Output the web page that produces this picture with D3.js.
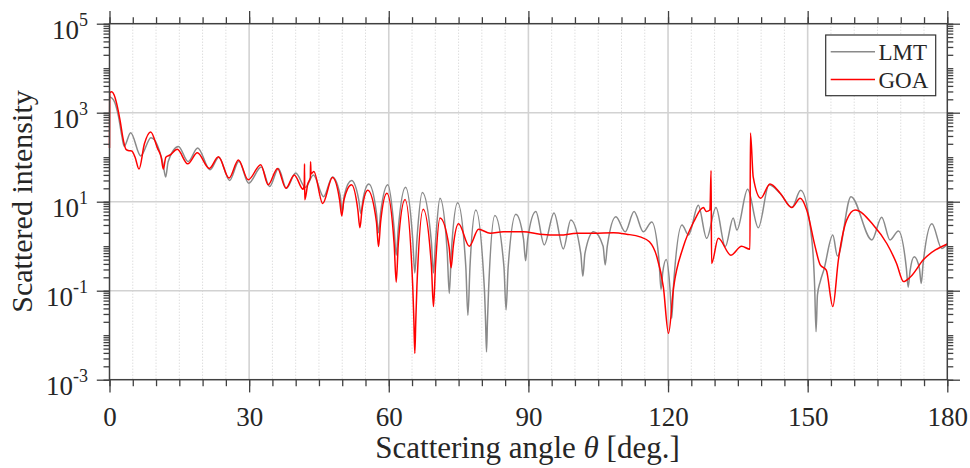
<html>
<head>
<script src="https://d3js.org/d3.v7.min.js"></script>
<style>
body { margin: 0; background: #fff; }
text { font-family: "Liberation Serif", "Times New Roman", serif; fill: #262626; }
</style>
</head>
<body>
<svg id="chart" width="970" height="468"></svg>
<script>
// scattering angle (deg) and intensity
var lmtPoints = [
  [0,2300],[0.86,1950],[1.93,830],[2.65,300],[3.15,175],[4.55,355],[6.7,107],[8.9,275],
  [11.5,71],[12.07,36],[12.6,79],[14.8,175],[16.9,80],[18.95,162],[21.6,52],[23.5,100],
  [25.8,30],[27.8,81],[29.9,26],[32.6,60],[34.4,22],[36.3,56],[38.0,20],[40.0,44],
  [42.1,21],[43.8,40],[46.0,13],[47.9,36],[49.55,14],[50.0,5.9],[50.45,14],[52.0,30],
  [53.55,11],[54.0,5.4],[54.45,11],[55.7,25],[57.35,5.6],[57.8,2.0],[58.25,5.6],[59.8,24],
  [61.15,2.5],[61.6,0.63],[62.05,2.5],[63.6,21],[65.15,1.4],[65.6,0.25],[66.05,1.4],[67.2,16],
  [69.15,1.26],[69.6,0.25],[70.05,1.26],[71.0,12],[72.55,0.76],[73.0,0.087],[73.45,0.76],
  [74.8,9.5],[76.55,0.35],[77.0,0.028],[77.45,0.35],[78.7,6.5],[80.55,0.107],[80.8,0.02],
  [81.0,0.0042],[81.2,0.02],[81.45,0.107],[82.8,4.9],[84.75,0.34],[85.2,0.037],[85.65,0.34],
  [87.3,5.2],[88.95,1.45],[89.4,0.47],[89.85,1.45],[91.6,6.0],[93.4,1.07],[95.5,5.6],
  [97.5,0.87],[99.1,3.9],[101.25,0.69],[101.7,0.21],[102.15,0.69],[104.0,2.1],[106.05,1.0],
  [106.5,0.38],[106.95,1.0],[108.8,4.6],[110.8,2.1],[112.7,6.0],[114.7,2.1],[116.5,3.5],
  [118.05,0.5],[118.5,0.107],[118.85,0.25],[119.6,0.5],[120.45,0.1],[120.8,0.024],[121.2,0.14],
  [123.0,3.0],[124.4,1.78],[126.5,8.3],[128.3,1.5],[130.3,7.4],[132.3,0.98],[134.0,4.3],
  [134.8,2.3],[137.1,19],[139.4,2.6],[141.7,24],[144.4,14],[146.6,7.4],[148.5,18],
  [150.9,1.38],[151.5,0.126],[151.8,0.012],[152.1,0.08],[152.7,0.16],[153.5,0.3],[155.4,1.78],
  [156.4,0.6],[159.3,13],[163.8,1.38],[165.9,4.5],[167.7,1.38],[169.5,2.2],[171.2,0.32],
  [171.6,0.12],[172.0,0.28],[172.9,0.58],[174.0,0.32],[174.4,0.145],[174.8,0.4],[176.7,3.2],
  [178.8,0.89],[180,1.12]
];

var goaPoints = [
  [0,160],[0.05,2800],[0.5,2950],[1.0,2500],[1.54,1600],[2.26,680],[2.98,240],[3.55,150],
  [4.2,140],[4.77,138],[5.5,100],[6.34,54],[7.5,200],[8.85,370],[10.3,160],[11.1,100],
  [11.57,54],[12.1,100],[13.0,112],[14.57,150],[16.8,71],[18.87,126],[21.45,56],[23.4,102],
  [25.7,34],[27.7,87],[29.8,31],[32.5,68],[34.1,24],[36.1,56],[37.9,20],[39.7,40],
  [41.6,19],[41.85,25],[41.9,71],[41.95,11],[42.6,25],[43.15,35],[43.2,79],[43.3,42],
  [43.9,48],[45.8,9.1],[47.9,35],[49.45,10.7],[49.9,4.8],[50.35,10.7],[52.0,24],[53.35,6.6],
  [53.8,2.6],[54.25,6.6],[55.5,18],[57.35,3.5],[57.8,0.98],[58.25,3.5],[59.6,15.5],
  [61.15,1.15],[61.6,0.155],[62.05,1.15],[63.5,11.2],[65.15,0.126],[65.4,0.02],[65.6,0.0039],
  [65.8,0.02],[66.05,0.126],[67.4,6.8],[69.15,0.38],[69.6,0.044],[70.05,0.38],[71.0,4.3],
  [72.95,0.98],[73.4,0.33],[73.85,0.98],[75.0,3.2],[77.3,1.0],[79.3,2.4],[81.8,1.95],
  [84.6,2.1],[88.9,2.1],[92.5,1.86],[96.8,1.78],[100.4,1.95],[104,1.95],[108.3,2.0],
  [111.1,1.86],[114.0,1.62],[116.0,1.26],[117.6,0.58],[119.0,0.12],[120.1,0.011],[121.2,0.12],
  [123.3,0.98],[125.5,3.5],[127.6,7.4],[128.2,6.0],[129.0,6.5],[129.25,50],[129.35,0.41],
  [130.8,1.5],[133.5,0.63],[135.8,1.0],[137.6,0.85],[137.7,350],[138.3,36],[139.9,12],
  [141.9,25],[144.1,15.5],[146.6,7.4],[148.4,12],[149.8,6.5],[151.6,0.98],[152.7,0.38],
  [154.0,0.29],[155.4,0.044],[156.6,0.49],[158.4,3.9],[160.2,6.5],[164.1,3.0],[167.0,1.15],
  [169.1,0.41],[170.6,0.16],[172.0,0.2],[174.9,0.5],[180,1.12]
];

var xMajorTicks = [0, 30, 60, 90, 120, 150, 180];
var yLabelExponents = [-3, -1, 1, 3, 5];
var seriesNames = ["LMT", "GOA"];

var svg = d3.select("#chart");
var pL = 109.5, pR = 947.3, pT = 23.7, pB = 379.7;

var x = d3.scaleLinear().domain([0, 180]).range([pL, pR]);
var y = d3.scaleLog().domain([1e-3, 1e5]).range([pB, pT]);

var xMinor = d3.range(0, 181, 5);
var yMajor = yLabelExponents.map(function(e) { return Math.pow(10, e); });

// grid
var grid = svg.append("g");
grid.selectAll(".xminor").data(xMinor.filter(function(d) { return d % 30 != 0; }))
  .enter().append("line")
  .attr("x1", x).attr("x2", x).attr("y1", pT).attr("y2", pB)
  .attr("stroke", "#cfcfcf").attr("stroke-width", 1).attr("stroke-dasharray", "1,2");
grid.selectAll(".xmajor").data(xMajorTicks.slice(1, -1))
  .enter().append("line")
  .attr("x1", x).attr("x2", x).attr("y1", pT).attr("y2", pB)
  .attr("stroke", "#d2d2d2").attr("stroke-width", 1.6);
grid.selectAll(".ymajor").data(yMajor.slice(1, -1))
  .enter().append("line")
  .attr("x1", pL).attr("x2", pR).attr("y1", y).attr("y2", y)
  .attr("stroke", "#d2d2d2").attr("stroke-width", 1.6);

// data lines
var line = d3.line()
  .x(function(d) { return x(d[0]); })
  .y(function(d) { return y(d[1]); })
  .curve(d3.curveMonotoneX);

svg.append("path").datum(lmtPoints)
  .attr("d", line).attr("fill", "none")
  .attr("stroke", "#8a8a8a").attr("stroke-width", 1.5);
svg.append("path").datum(goaPoints)
  .attr("d", line).attr("fill", "none")
  .attr("stroke", "#ff0000").attr("stroke-width", 1.5);

// axes (box with outward ticks)
var axisColor = "#404040";
var xAxisB = d3.axisBottom(x).tickValues(xMajorTicks).tickSize(12.7).tickFormat(d3.format("d")).tickPadding(14);
var xMinorB = d3.axisBottom(x).tickValues(xMinor).tickSize(6.5).tickFormat("");
var xAxisT = d3.axisTop(x).tickValues(xMajorTicks).tickSize(12.7).tickFormat("");
var xMinorT = d3.axisTop(x).tickValues(xMinor).tickSize(6.5).tickFormat("");
var yMinorVals = y.ticks();
var yAxisL = d3.axisLeft(y).tickValues(yMajor).tickSize(12.7).tickFormat("");
var yMinorL = d3.axisLeft(y).tickValues(yMinorVals).tickSize(6).tickFormat("");
var yAxisR = d3.axisRight(y).tickValues(yMajor).tickSize(12.7).tickFormat("");
var yMinorR = d3.axisRight(y).tickValues(yMinorVals).tickSize(6).tickFormat("");

function styleAxis(g) {
  g.select(".domain").remove();
  g.selectAll(".tick line").attr("stroke", axisColor).attr("stroke-width", 1.3);
  g.selectAll(".tick text").attr("fill", "#262626")
    .style("font-family", "'Liberation Serif', serif").style("font-size", "27px");
}

svg.append("g").attr("transform", "translate(0," + pB + ")").call(xMinorB).call(styleAxis);
svg.append("g").attr("transform", "translate(0," + pB + ")").call(xAxisB).call(styleAxis);
svg.append("g").attr("transform", "translate(0," + pT + ")").call(xMinorT).call(styleAxis);
svg.append("g").attr("transform", "translate(0," + pT + ")").call(xAxisT).call(styleAxis);
svg.append("g").attr("transform", "translate(" + pL + ",0)").call(yMinorL).call(styleAxis);
svg.append("g").attr("transform", "translate(" + pL + ",0)").call(yAxisL).call(styleAxis);
svg.append("g").attr("transform", "translate(" + pR + ",0)").call(yMinorR).call(styleAxis);
svg.append("g").attr("transform", "translate(" + pR + ",0)").call(yAxisR).call(styleAxis);

svg.append("rect")
  .attr("x", pL).attr("y", pT).attr("width", pR - pL).attr("height", pB - pT)
  .attr("fill", "none").attr("stroke", axisColor).attr("stroke-width", 1.5);

// y tick labels 10^n
var yLab = svg.append("g").selectAll("text").data(yLabelExponents).enter().append("text")
  .attr("x", 88).attr("y", function(e) { return y(Math.pow(10, e)) + 15; })
  .attr("text-anchor", "end").style("font-size", "27px");
yLab.append("tspan").text("10");
yLab.append("tspan").attr("dy", -13).style("font-size", "18px").text(function(e) { return e; });

// axis titles
svg.append("text")
  .attr("transform", "translate(32,201.5) rotate(-90)")
  .attr("text-anchor", "middle").style("font-size", "30px")
  .text("Scattered intensity");

var xt = svg.append("text").attr("x", 527.5).attr("y", 458)
  .attr("text-anchor", "middle").style("font-size", "31px");
xt.append("tspan").text("Scattering angle ");
xt.append("tspan").style("font-style", "italic").text("\u03b8");
xt.append("tspan").text(" [deg.]");

// legend
var legend = svg.append("g");
legend.append("rect").attr("x", 825.7).attr("y", 35).attr("width", 110).attr("height", 60.7)
  .attr("fill", "#fff").attr("stroke", "#333").attr("stroke-width", 1.2);
var legColors = ["#8a8a8a", "#ff0000"];
seriesNames.forEach(function(name, i) {
  var yy = 51.7 + i * 27.7;
  legend.append("line").attr("x1", 830.7).attr("x2", 875).attr("y1", yy).attr("y2", yy)
    .attr("stroke", legColors[i]).attr("stroke-width", 1.5);
  legend.append("text").attr("x", 878.5).attr("y", yy + 8.5)
    .style("font-size", "23px").attr("fill", "#000").text(name);
});
</script>
</body>
</html>
